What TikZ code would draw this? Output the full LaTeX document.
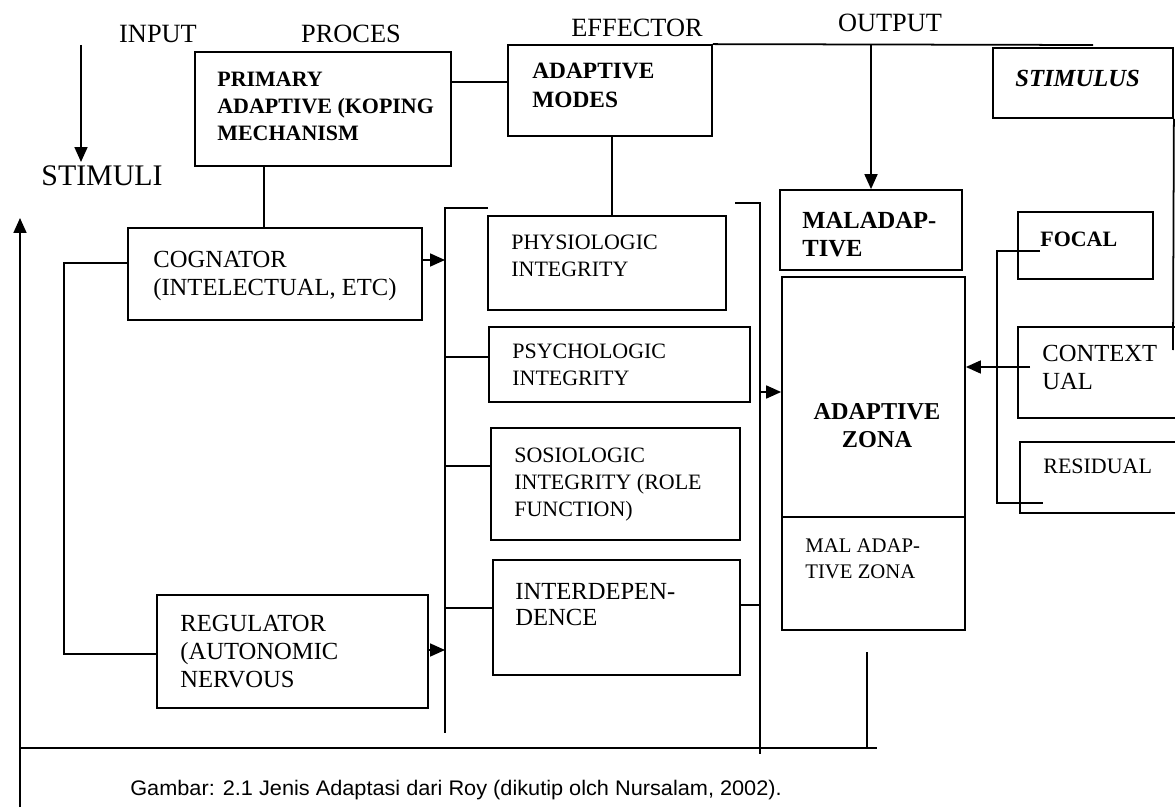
\documentclass[tikz,border=0pt]{standalone}
\usepackage{fontspec}
\setmainfont{Liberation Serif}
\newfontfamily\capfont{Liberation Sans}
\usetikzlibrary{arrows.meta,fit}
\newcommand\boxfont{\fontsize{12.5}{15.3}\selectfont}
\newcommand\bigboxfont{\fontsize{14}{16}\selectfont}
\newcommand\headfont{\fontsize{15}{18}\selectfont}
\tikzset{
  box/.style={draw, inner sep=0pt, line width=1pt},
  txt/.style={anchor=north west, inner sep=0pt, align=left, font=\boxfont},
  bigtxt/.style={txt, font=\bigboxfont},
  head/.style={inner sep=0pt, font=\headfont},
  ln/.style={line width=1pt},
  arr/.style={line width=1pt, -{Triangle[length=0.3cm,width=0.26cm]}}
}
\begin{document}
\begin{tikzpicture}[x=0.02cm,y=-0.02cm]
\clip (0,0) rectangle (1175,807);
% headers
\node[head] (hin) at (158,34) {INPUT};
\node[head] (hpr) at (351,34) {PROCES};
\node[head] (hef) at (637,28) {EFFECTOR};
\node[head] (hout) at (890,23) {OUTPUT};
\node[head, font=\fontsize{17}{20}\selectfont] (stimuli) at (102,176) {STIMULI};
% boxes
\node[box, fit={(195,52)(451,166)}] (prim) {};
\node[txt, font=\boxfont\bfseries] (primt) at (217,72) {PRIMARY\\ADAPTIVE (KOPING\\MECHANISM};
\node[box, fit={(508,45)(712,136)}] (modes) {};
\node[txt, font=\fontsize{13.3}{16.5}\selectfont\bfseries] (modest) at (532,63) {ADAPTIVE\\MODES};
\node[box, fit={(993,48)(1173,118)}] (stim) {};
\node[txt, font=\bigboxfont\bfseries\itshape] (stimt) at (1015,70) {STIMULUS};
\node[box, fit={(128,228)(422,320)}] (cog) {};
\node[bigtxt] (cogt) at (153,251) {COGNATOR\\(INTELECTUAL, ETC)};
\node[box, fit={(157,595)(428,708)}] (reg) {};
\node[bigtxt] (regt) at (180,615) {REGULATOR\\(AUTONOMIC\\NERVOUS};
\node[box, fit={(488,216)(726,310)}] (phys) {};
\node[txt] (physt) at (511,235) {PHYSIOLOGIC\\INTEGRITY};
\node[box, fit={(489,327)(750,402)}] (psych) {};
\node[txt] (psycht) at (512,344) {PSYCHOLOGIC\\INTEGRITY};
\node[box, fit={(491,428)(740,540)}] (sosio) {};
\node[txt] (sosiot) at (514,448) {SOSIOLOGIC\\INTEGRITY (ROLE\\FUNCTION)};
\node[box, fit={(493,560)(740,675)}] (inter) {};
\node[txt, font=\fontsize{14}{14.6}\selectfont] (intert) at (515,583) {INTERDEPEN-\\DENCE};
\node[box, fit={(780,190)(962,270)}] (mal) {};
\node[txt, font=\bigboxfont\bfseries] (malt) at (802,212) {MALADAP-\\TIVE};
\node[box, fit={(782,277)(965,630)}] (zone) {};
\draw[ln] (782,517) -- (965,517);
\node[inner sep=0pt, anchor=north, align=center, font=\fontsize{13.8}{16}\selectfont\bfseries] (zonet) at (877,403) {ADAPTIVE\\ZONA};
\node[txt, font=\fontsize{11.8}{15}\selectfont] (malzt) at (805,538) {MAL ADAP-\\TIVE ZONA};
\node[box, fit={(1018,212)(1153,279)}] (focal) {};
\node[txt, font=\boxfont\bfseries] (focalt) at (1040,232) {FOCAL};
\node[box, fit={(1018,327)(1190,418)}] (context) {};
\node[bigtxt] (contextt) at (1042,345) {CONTEXT\\UAL};
\node[box, fit={(1020,442)(1190,513)}] (resid) {};
\node[txt] (residt) at (1043,459) {RESIDUAL};
% caption
\node[anchor=base west, inner sep=0pt, font=\capfont\fontsize{12}{14}\selectfont] (cap) at (130,795) {\scalebox{1.03}[1]{Gambar: 2.1 Jenis Adaptasi dari Roy (dikutip olch Nursalam, 2002).}};
% coordinates
\coordinate (inA) at (81,45);
\coordinate (inB) at (81,162);
\coordinate (lbot) at (20,807);
\coordinate (ltop) at (20,218);
\coordinate (bl) at (20,748);
\coordinate (br) at (877,748);
\coordinate (zdown) at (867,652);
\coordinate (zdownb) at (867,748);
\coordinate (rbt0) at (735,203);
\coordinate (rbt) at (760,203);
\coordinate (rbb) at (760,754);
\coordinate (lbt0) at (488,208);
\coordinate (lbt) at (445,208);
\coordinate (lbb) at (445,733);
\coordinate (loopx) at (64,0);
\coordinate (topend) at (1093,45);
\coordinate (fbx) at (997,0);
\coordinate (fbt) at (1040,251);
\coordinate (fbb) at (1043,503);
\coordinate (ctx) at (1030,367);
\coordinate (rvb) at (1173,350);
% connectors
\draw[arr] (inA) -- (inB);
\draw[arr] (lbot) -- (ltop);
\draw[ln] (bl) -- (br);
\draw[ln] (zdown) -- (zdownb);
\draw[ln] (rbt0) -- (rbt) -- (rbb);
\draw[ln] (lbt0) -- (lbt) -- (lbb);
\draw[ln] (cog.west |- 0,263) -- (loopx |- 0,263) -- (loopx |- 0,654) -- (reg.west |- 0,654);
\draw[ln] (prim.south -| 264,0) -- (cog.north -| 264,0);
\draw[ln] (prim.east |- 0,82) -- (modes.west |- 0,82);
\draw[ln] (modes.south -| 612,0) -- (phys.north -| 612,0);
\draw[ln] (modes.north east) -- (topend);
\draw[arr] (mal.north |- 0,45) -- (mal.north);
\draw[arr] (cog.east |- 0,260) -- (lbt |- 0,260);
\draw[arr] (reg.east |- 0,650) -- (lbt |- 0,650);
\draw[ln] (lbt |- 0,357) -- (psych.west |- 0,357);
\draw[ln] (lbt |- 0,466) -- (sosio.west |- 0,466);
\draw[ln] (lbt |- 0,608) -- (inter.west |- 0,608);
\draw[ln] (inter.east |- 0,605) -- (rbt |- 0,605);
\draw[arr] (rbt |- 0,392) -- (zone.west |- 0,392);
\draw[arr] (ctx) -- (zone.east |- ctx);
\draw[ln] (fbt) -- (fbx |- fbt) -- (fbx |- fbb) -- (fbb);
\draw[ln] (stim.south east) -- (rvb);
\end{tikzpicture}
\end{document}
